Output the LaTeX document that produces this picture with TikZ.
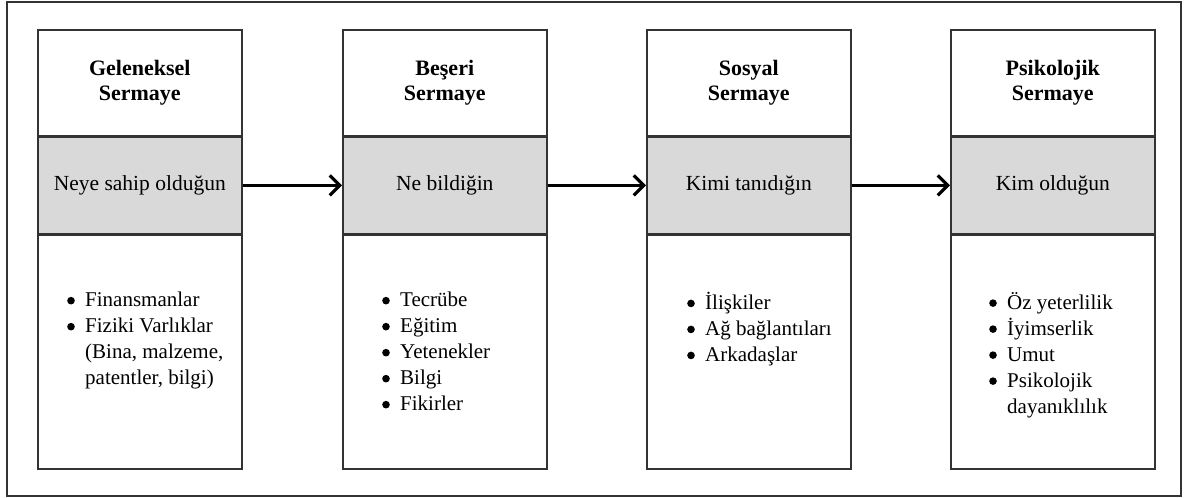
\documentclass[tikz,border=0pt]{standalone}
\usepackage{fontspec}
\setmainfont{Liberation Serif}
\usetikzlibrary{positioning,arrows.meta}

\newcommand{\blt}{\makebox[18pt][l]{\tikz[baseline=-6.3pt]\path[fill=black,draw=none] (3.8pt,0pt) circle[radius=3.8pt];}}

\tikzset{
  head/.style={draw=black!80,line width=1.6pt,minimum width=204pt,minimum height=106pt,
    inner sep=0pt,align=center,font=\bfseries\fontsize{22}{25}\selectfont},
  band/.style={head,fill=black!15,minimum height=96pt,font=\fontsize{21.5}{26}\selectfont},
  body/.style={head,minimum height=234pt},
  list/.style={inner sep=0pt,align=left,font=\fontsize{21}{26}\selectfont},
  frame/.style={draw=black!80,line width=1.2pt},
  flow/.style={line width=3.2pt,-{Straight Barb[length=10pt,width=20pt]}}
}

\begin{document}
\begin{tikzpicture}[x=1pt,y=-1pt]
  \useasboundingbox (0,0) rectangle (1184,498);
  \draw[frame] (7,2) rectangle (1181,496); % outer frame
  % the four columns
  \foreach \nm/\x/\ttl/\bnd in {gel/37/Geleneksel/Neye sahip olduğun,
      bes/342/Beşeri/Ne bildiğin, sos/646/Sosyal/Kimi tanıdığın,
      psi/950/Psikolojik/Kim olduğun}
  {
    \node[head,anchor=north west] (\nm-head) at (\x,29) {\ttl\\Sermaye};
    \node[band,below=0pt of \nm-head] (\nm-band) {\bnd};
    \node[body,below=0pt of \nm-band] (\nm-body) {};
  }
  % bullet lists
  \node[list,below right=58pt and 30pt of gel-body.north west] (gel-list)
    {\blt Finansmanlar\\ \blt Fiziki Varlıklar\\ \hspace*{18pt}(Bina, malzeme,\\
     \hspace*{18pt}patentler, bilgi)};
  \node[list,below right=58pt and 40pt of bes-body.north west] (bes-list)
    {\blt Tecrübe\\ \blt Eğitim\\ \blt Yetenekler\\ \blt Bilgi\\ \blt Fikirler};
  \node[list,below right=58pt and 41pt of sos-body.north west] (sos-list)
    {\blt İlişkiler\\ \blt Ağ bağlantıları\\ \blt Arkadaşlar};
  \node[list,below right=58pt and 39pt of psi-body.north west] (psi-list)
    {\blt Öz yeterlilik\\ \blt İyimserlik\\ \blt Umut\\ \blt Psikolojik\\
     \hspace*{18pt}dayanıklılık};
  % arrows between the grey bands
  \foreach \a/\b in {gel/bes,bes/sos,sos/psi}
    \draw[flow] (\a-band) -- (\b-band);
\end{tikzpicture}
\end{document}
